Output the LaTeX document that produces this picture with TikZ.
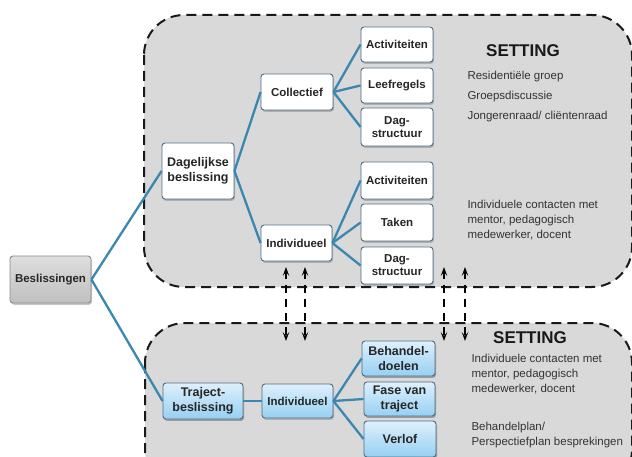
\documentclass[tikz,border=0pt]{standalone}
\usepackage{fontspec}
\setmainfont{Liberation Sans}
\usetikzlibrary{arrows.meta, shadows}

\definecolor{linkblue}{RGB}{58,135,175}
\definecolor{boxedge}{RGB}{80,108,132}
\definecolor{zonegray}{RGB}{217,217,217}
\definecolor{paleblue}{RGB}{222,240,252}
\definecolor{midblue}{RGB}{150,208,242}

\begin{document}
\begin{tikzpicture}[x=1pt, y=-1pt, >=Stealth,
  box/.style={draw=boxedge, line width=0.9pt, rounded corners=3pt, fill=white,
    align=center, inner sep=1pt, text=black!85,
    font=\fontsize{11.5}{13}\selectfont\bfseries,
    drop shadow={shadow xshift=1pt, shadow yshift=-1.8pt, opacity=0.45}},
  bigbox/.style={box, font=\fontsize{12.5}{15}\selectfont\bfseries},
  trajbox/.style={box, top color=paleblue, bottom color=midblue},
  rootbox/.style={box, draw=black!45, top color=black!13, bottom color=black!25},
  zone/.style={draw=black!90, fill=zonegray, line width=2pt,
    dash pattern=on 10pt off 6pt, rounded corners=40pt},
  link/.style={draw=linkblue, line width=2.3pt},
  swap/.style={line width=2pt, dash pattern=on 8pt off 6pt,
    arrows={Stealth[length=9pt, width=6.5pt, inset=4pt]-Stealth[length=9pt, width=6.5pt, inset=4pt]}},
  heading/.style={font=\fontsize{17}{20}\selectfont\bfseries, text=black!90},
  note/.style={font=\fontsize{11.5}{15}\selectfont, text=black!80, align=left, anchor=west}
]
\useasboundingbox (0,0) rectangle (632,457);

% --- Setting zones ---
\draw[zone] (144,15) rectangle (632,287);
\draw[zone] (145,323) rectangle (632,490);

% --- Root ---
\node[rootbox, minimum width=81pt, minimum height=47pt] (besl) at (50.5,279.5) {Beslissingen};

% --- Daily decisions ---
\node[bigbox, minimum width=72pt, minimum height=56pt] (dag) at (198,171) {Dagelijkse\\beslissing};
\node[box, minimum width=72pt, minimum height=36pt] (coll) at (297,92) {Collectief};
\node[box, minimum width=71pt, minimum height=36pt] (indT) at (296.5,243) {Individueel};

\node[box, minimum width=72pt, minimum height=35pt] (act1) at (397,44.5) {Activiteiten};
\node[box, minimum width=72pt, minimum height=35pt] (leef) at (397,85.5) {Leefregels};
\node[box, minimum width=72pt, minimum height=38pt] (dst1) at (397,127) {Dag-\\structuur};
\node[box, minimum width=72pt, minimum height=37pt] (act2) at (397,180.5) {Activiteiten};
\node[box, minimum width=72pt, minimum height=37pt] (taken) at (397,222.5) {Taken};
\node[box, minimum width=72pt, minimum height=37pt] (dst2) at (397,265.5) {Dag-\\structuur};

% --- Trajectory decisions ---
\node[trajbox, bigbox, minimum width=80pt, minimum height=36pt] (traj) at (203,401) {Traject-\\beslissing};
\node[trajbox, minimum width=71pt, minimum height=34pt] (indB) at (297.5,401) {Individueel};
\node[trajbox, bigbox, minimum width=73pt, minimum height=35pt] (doel) at (398.5,358.5) {Behandel-\\doelen};
\node[trajbox, bigbox, minimum width=71pt, minimum height=34pt] (fase) at (399.5,399) {Fase van\\traject};
\node[trajbox, bigbox, minimum width=72pt, minimum height=36pt] (verlof) at (400,439) {Verlof};

% --- Links ---
\draw[link] (besl.east) -- (dag.west);
\draw[link] (besl.east) -- (traj.west);
\draw[link] (dag.east) -- (coll.west);
\draw[link] (dag.east) -- (indT.west);
\foreach \t in {act1, leef, dst1}
  \draw[link] (coll.east) -- (\t.west);
\foreach \t in {act2, taken, dst2}
  \draw[link] (indT.east) -- (\t.west);
\draw[link] (traj.east) -- (indB.west);
\foreach \t in {doel, fase, verlof}
  \draw[link] (indB.east) -- (\t.west);

% --- Exchange between the zones ---
\foreach \n/\x in {a/286, b/305, c/444, d/465} {
  \coordinate (up\n) at (\x,267);
  \coordinate (dn\n) at (\x,341);
  \draw[swap] (up\n) -- (dn\n);
}

% --- Setting texts ---
\node[heading] (set1) at (523,51) {SETTING};
\node[note] (grp) at (464,77) {Residentiële groep};
\node[note] (disc) at (464,97) {Groepsdiscussie};
\node[note] (raad) at (464,117) {Jongerenraad/ cliëntenraad};
\node[note] (cont1) at (464,220) {Individuele contacten met\\mentor, pedagogisch\\medewerker, docent};

\node[heading] (set2) at (530,338) {SETTING};
\node[note] (cont2) at (468,374) {Individuele contacten met\\mentor, pedagogisch\\medewerker, docent};
\node[note] (plan) at (468,435.5) {Behandelplan/\\Perspectiefplan besprekingen};

\end{tikzpicture}
\end{document}
